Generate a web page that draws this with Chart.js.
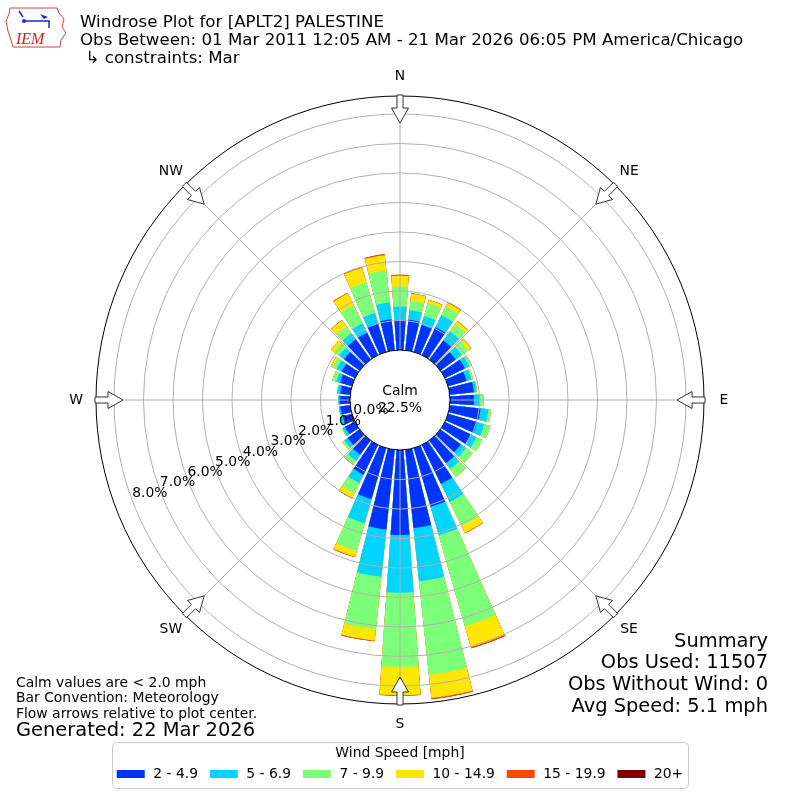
<!DOCTYPE html>
<html>
<head>
<meta charset="utf-8">
<title>Windrose Plot for [APLT2] PALESTINE</title>
<script src="https://cdn.jsdelivr.net/npm/chart.js@4.4.1/dist/chart.umd.min.js"></script>
<style>
  html, body { margin: 0; padding: 0; background: #fff; }
  #grafico { width: 800px; height: 800px; }
</style>
</head>
<body>
<div id="grafico"><canvas id="rosa" width="800" height="800"></canvas></div>
<script>
// Datos (porcentaje de observaciones por dirección y rango)
const direcciones = [0, 10, 20, 30, 40, 50, 60, 70, 80, 90, 100, 110, 120, 130, 140, 150, 160, 170,
  180, 190, 200, 210, 220, 230, 240, 250, 260, 270, 280, 290, 300, 310, 320, 330, 340, 350]
const rangosVelocidad = ['2 - 4.9', '5 - 6.9', '7 - 9.9', '10 - 14.9', '15 - 19.9', '20+']
const coloresRangos = ['#0033ff', '#00d4ff', '#7cff79', '#ffe600', '#ff4600', '#800000']

const velocidad2a5 = [1.02, 1.04, 0.95, 1.05, 0.80, 0.64, 0.75, 0.65, 0.82, 0.81, 1.05, 1.02, 0.96, 0.85, 0.95, 1.47, 2.07, 2.67,
  2.88, 2.72, 1.80, 1.12, 0.60, 0.50, 0.38, 0.33, 0.34, 0.35, 0.34, 0.42, 0.50, 0.65, 0.85, 0.85, 1.00, 1.06]
const velocidad5a7 = [0.45, 0.32, 0.32, 0.45, 0.38, 0.26, 0.17, 0.18, 0.09, 0.21, 0.27, 0.26, 0.23, 0.22, 0.24, 0.68, 1.01, 1.81,
  1.96, 1.61, 0.85, 0.32, 0.25, 0.14, 0.09, 0.08, 0.05, 0.05, 0.10, 0.13, 0.20, 0.20, 0.25, 0.35, 0.37, 0.57]
const velocidad7a10 = [0.68, 0.33, 0.44, 0.33, 0.30, 0.25, 0.06, 0.05, 0.02, 0.11, 0.09, 0.21, 0.21, 0.28, 0.32, 0.91, 3.20, 3.19,
  2.51, 1.78, 0.97, 0.38, 0.15, 0.06, 0.03, 0.01, 0.00, 0.00, 0.01, 0.13, 0.15, 0.20, 0.30, 0.69, 1.08, 1.09]
const velocidad10a15 = [0.37, 0.24, 0.12, 0.14, 0.12, 0.13, 0.03, 0.01, 0.00, 0.00, 0.00, 0.00, 0.00, 0.00, 0.01, 0.26, 0.74, 0.79,
  0.96, 0.40, 0.21, 0.19, 0.02, 0.02, 0.00, 0.00, 0.00, 0.00, 0.00, 0.01, 0.07, 0.15, 0.25, 0.44, 0.52, 0.52]
const velocidad15a20 = [0.03, 0.01, 0.01, 0.03, 0.01, 0.01, 0, 0, 0, 0, 0, 0, 0, 0, 0, 0.01, 0.04, 0.04,
  0.02, 0.02, 0.02, 0.01, 0, 0, 0, 0, 0, 0, 0, 0, 0, 0, 0.01, 0.02, 0.03, 0.03]
const velocidad20mas = [0, 0, 0, 0, 0, 0, 0, 0, 0, 0, 0, 0, 0, 0, 0, 0, 0, 0,
  0, 0, 0, 0, 0, 0, 0, 0, 0, 0, 0, 0, 0, 0, 0, 0, 0, 0]

const marcasAnillos = [0, 1, 2, 3, 4, 5, 6, 7, 8]
const calma = 22.5
const puntosCardinales = ['N', 'NE', 'E', 'SE', 'S', 'SW', 'W', 'NW']

const lineasTitulo = [
  'Windrose Plot for [APLT2] PALESTINE',
  'Obs Between: 01 Mar 2011 12:05 AM - 21 Mar 2026 06:05 PM America/Chicago',
  '\u21b3 constraints: Mar'
]
const notas = ['Calm values are < 2.0 mph', 'Bar Convention: Meteorology', 'Flow arrows relative to plot center.']
const generado = 'Generated: 22 Mar 2026'
const resumen = ['Summary', 'Obs Used: 11507', 'Obs Without Wind: 0', 'Avg Speed: 5.1 mph']
const tituloLeyenda = 'Wind Speed [mph]'

// Eje radial: el 0% queda en el borde del círculo de calma
const minimoEje = -1.695
const maximoEje = 8.61
const fuente = '"DejaVu Sans", sans-serif'

window.onload = () => {
  crearGrafico()
}

// Cada dirección ocupa 8 grados y deja un hueco de 2 grados
function intercalarHuecos(valores) {
  const salida = []
  valores.forEach(v => {
    salida.push(v)
    salida.push(0)
  })
  return salida
}

// Suma acumulada de los rangos para apilar las barras
function procesarDatos() {
  const series = [velocidad2a5, velocidad5a7, velocidad7a10, velocidad10a15, velocidad15a20, velocidad20mas]
  const angulos = direcciones.flatMap(() => [8, 2])
  return series.map((serie, k) => {
    const acumulado = direcciones.map((d, i) => {
      let suma = 0
      for (let j = 0; j <= k; j++) suma += series[j][i]
      return suma
    })
    return {
      label: rangosVelocidad[k],
      data: intercalarHuecos(acumulado),
      backgroundColor: coloresRangos[k],
      borderWidth: 0,
      angle: angulos
    }
  })
}

function dibujarFlecha(ctx, cx, cy, a, radio) {
  const puntos = [[radio + 1, -3], [radio - 12, -3], [radio - 12, -8.5], [radio - 27, 0],
    [radio - 12, 8.5], [radio - 12, 3], [radio + 1, 3]]
  ctx.beginPath()
  puntos.forEach(([r, v], i) => {
    const x = cx + r * Math.cos(a) - v * Math.sin(a)
    const y = cy + r * Math.sin(a) + v * Math.cos(a)
    if (i === 0) ctx.moveTo(x, y)
    else ctx.lineTo(x, y)
  })
  ctx.closePath()
  ctx.fillStyle = '#ffffff'
  ctx.fill()
  ctx.strokeStyle = '#333333'
  ctx.lineWidth = 1
  ctx.stroke()
}

function dibujarLogo(ctx) {
  ctx.save()
  ctx.strokeStyle = '#d04040'
  ctx.lineWidth = 1
  ctx.beginPath()
  ctx.moveTo(10, 8)
  ctx.lineTo(57, 8)
  ctx.lineTo(59, 13)
  ctx.lineTo(64, 19)
  ctx.lineTo(62, 27)
  ctx.lineTo(66, 33)
  ctx.lineTo(61, 40)
  ctx.lineTo(60, 47)
  ctx.lineTo(13, 47)
  ctx.lineTo(11, 40)
  ctx.lineTo(8, 31)
  ctx.lineTo(6, 21)
  ctx.lineTo(9, 14)
  ctx.closePath()
  ctx.stroke()
  ctx.strokeStyle = '#1a2bd8'
  ctx.fillStyle = '#1a2bd8'
  ctx.lineWidth = 1.5
  ctx.beginPath()
  ctx.moveTo(24, 21)
  ctx.lineTo(50, 21)
  ctx.moveTo(19, 11)
  ctx.lineTo(23, 17)
  ctx.moveTo(49, 21)
  ctx.lineTo(49, 28)
  ctx.stroke()
  ctx.beginPath()
  ctx.moveTo(40, 14)
  ctx.lineTo(48, 17)
  ctx.lineTo(44, 19)
  ctx.closePath()
  ctx.fill()
  ctx.beginPath()
  ctx.arc(24, 21, 2, 0, 2 * Math.PI)
  ctx.fill()
  ctx.fillStyle = '#d02020'
  ctx.font = 'italic 16px "Liberation Serif", serif'
  ctx.textAlign = 'left'
  ctx.textBaseline = 'alphabetic'
  ctx.fillText('IEM', 16, 44)
  ctx.restore()
}

function dibujarLeyenda(ctx) {
  ctx.save()
  ctx.fillStyle = 'rgba(255,255,255,0.8)'
  ctx.strokeStyle = '#cccccc'
  ctx.lineWidth = 1
  ctx.beginPath()
  ctx.roundRect(112.5, 742.5, 576, 46, 4)
  ctx.fill()
  ctx.stroke()
  ctx.fillStyle = '#000'
  ctx.font = '13.9px ' + fuente
  ctx.textAlign = 'center'
  ctx.textBaseline = 'middle'
  ctx.fillText(tituloLeyenda, 400, 753)
  const anchos = rangosVelocidad.map(t => ctx.measureText(t).width)
  const total = anchos.reduce((s, w) => s + w + 28 + 8.5, 0) + 11.8 * (rangosVelocidad.length - 1)
  let x = 400 - total / 2
  ctx.textAlign = 'left'
  rangosVelocidad.forEach((texto, i) => {
    ctx.fillStyle = coloresRangos[i]
    ctx.fillRect(x, 770, 28, 8)
    ctx.fillStyle = '#000'
    ctx.fillText(texto, x + 36.5, 774.5)
    x += 28 + 8.5 + anchos[i] + 11.8
  })
  ctx.restore()
}

// Decoración de la rosa: hueco de calma, radios, flechas y textos
const decoracionRosa = {
  id: 'decoracionRosa',
  afterDatasetsDraw(chart) {
    const ctx = chart.ctx
    const escala = chart.scales.r
    const cx = escala.xCenter
    const cy = escala.yCenter
    const r0 = escala.getDistanceFromCenterForValue(0)
    ctx.save()
    ctx.fillStyle = '#ffffff'
    ctx.beginPath()
    ctx.arc(cx, cy, r0, 0, 2 * Math.PI)
    ctx.fill()
    ctx.strokeStyle = '#b0b0b0'
    ctx.lineWidth = 1
    puntosCardinales.forEach((p, i) => {
      const a = (i * 45 - 90) * Math.PI / 180
      ctx.beginPath()
      ctx.moveTo(cx + r0 * Math.cos(a), cy + r0 * Math.sin(a))
      ctx.lineTo(cx + escala.drawingArea * Math.cos(a), cy + escala.drawingArea * Math.sin(a))
      ctx.stroke()
    })
    ctx.restore()
  },
  afterDraw(chart) {
    const ctx = chart.ctx
    const escala = chart.scales.r
    const cx = escala.xCenter
    const cy = escala.yCenter
    const radio = escala.drawingArea
    ctx.save()
    ctx.font = '13.9px ' + fuente
    ctx.textAlign = 'center'
    ctx.textBaseline = 'middle'
    puntosCardinales.forEach((nombre, i) => {
      const a = (i * 45 - 90) * Math.PI / 180
      dibujarFlecha(ctx, cx, cy, a, radio)
      ctx.fillStyle = '#000'
      ctx.fillText(nombre, cx + (radio + 20) * Math.cos(a), cy + (radio + 20) * Math.sin(a))
    })

    // Etiquetas de los anillos
    ctx.fillStyle = '#000'
    marcasAnillos.forEach(v => {
      const rr = escala.getDistanceFromCenterForValue(v) - 19
      ctx.fillText(v.toFixed(1) + '%', cx - 0.937 * rr, cy + 0.349 * rr)
    })
    ctx.fillText('Calm', cx, cy - 8.5)
    ctx.fillText(calma.toFixed(1) + '%', cx, cy + 8)

    // Títulos
    ctx.textAlign = 'left'
    ctx.textBaseline = 'alphabetic'
    ctx.font = '16.67px ' + fuente
    ctx.fillText(lineasTitulo[0], 80, 26.5)
    ctx.fillText(lineasTitulo[1], 80, 45)
    ctx.fillText(lineasTitulo[2], 85.5, 62.5)

    // Notas de la esquina inferior
    ctx.font = '13.9px ' + fuente
    notas.forEach((n, i) => ctx.fillText(n, 16, 686.5 + i * 15.6))
    ctx.font = '19.44px ' + fuente
    ctx.fillText(generado, 16, 736)

    ctx.textAlign = 'right'
    resumen.forEach((t, i) => ctx.fillText(t, 768, 646.5 + i * 21.7))
    ctx.restore()

    dibujarLogo(ctx)
    dibujarLeyenda(ctx)
  }
}

function crearGrafico() {
  const data = {
    labels: direcciones.flatMap(d => [d + '\u00b0', '']),
    datasets: procesarDatos()
  }
  const config = {
    type: 'polarArea',
    data: data,
    options: {
      responsive: false,
      animation: false,
      events: [],
      layout: { padding: 96 },
      plugins: {
        legend: { display: false },
        tooltip: { enabled: false }
      },
      scales: {
        r: {
          min: minimoEje,
          max: maximoEje,
          startAngle: -4,
          afterBuildTicks: (escala) => {
            escala.ticks = marcasAnillos.map(v => ({ value: v })).concat([{ value: maximoEje }])
          },
          ticks: { display: false },
          angleLines: { display: false },
          pointLabels: { display: false },
          grid: {
            z: 1,
            circular: true,
            lineWidth: 1,
            color: (c) => (c.tick && (c.tick.value === 0 || c.tick.value === maximoEje)) ? '#000000' : '#b0b0b0'
          }
        }
      }
    },
    plugins: [decoracionRosa]
  }
  new Chart(document.getElementById('rosa'), config)
}
</script>
</body>
</html>
